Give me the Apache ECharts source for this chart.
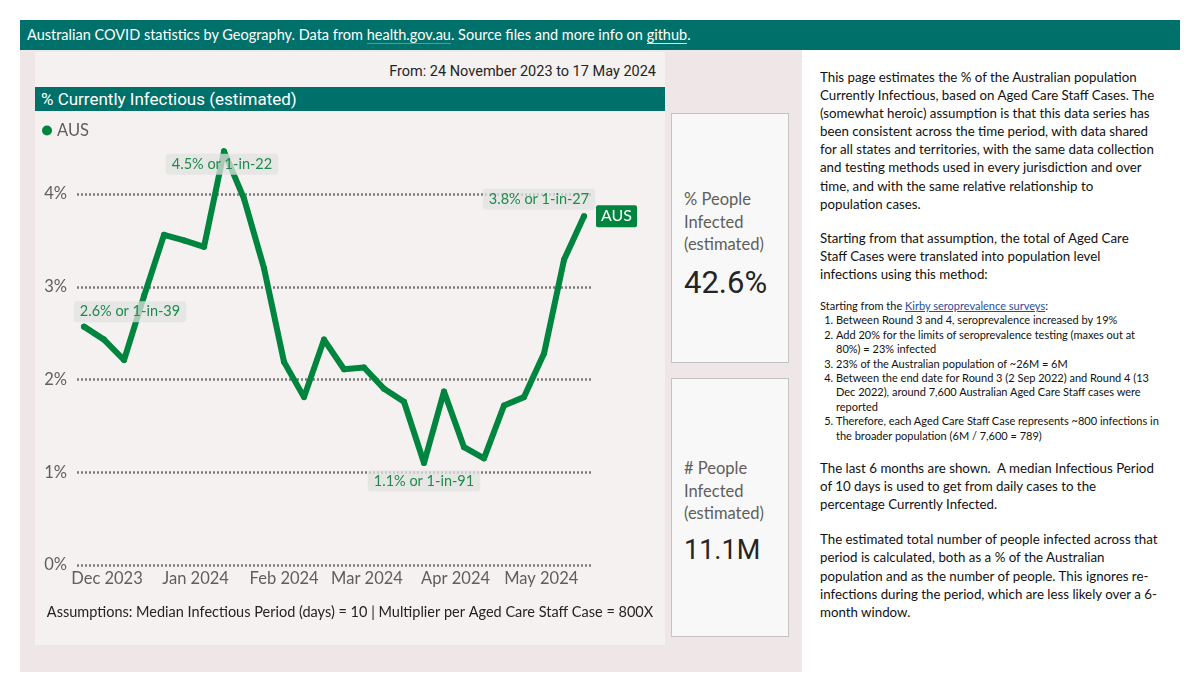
<!DOCTYPE html>
<html><head><meta charset="utf-8">
<script src="https://cdn.jsdelivr.net/npm/echarts@6/dist/echarts.min.js"></script>
<style>
body{margin:0;background:#fff;width:1200px;height:694px;position:relative;overflow:hidden;font-family:Lato,"Open Sans",sans-serif;}
.abs{position:absolute;}
#hdr{left:20px;top:20px;width:1160px;height:30px;background:#00706A;color:#fff;font-size:14.5px;line-height:30px;white-space:nowrap;}
#hdr .t{position:absolute;left:7px;top:0;}
#hdr a{color:#fff;text-decoration:none;border-bottom:1.5px solid #3d9be0;}
#hdr a.g{border-bottom-color:#d9e8e6;}
#outer{left:20px;top:50px;width:782px;height:622px;background:#EFE6E8;}
#inner{left:35px;top:52px;width:630px;height:593px;background:#F4F1F0;}
#from{left:35px;top:63px;width:621px;text-align:right;font-family:Roboto,sans-serif;font-size:14.5px;color:#252423;}
#ttl{left:35px;top:87px;width:630px;height:24px;background:#00706A;color:#fff;font-family:Roboto,sans-serif;font-size:17px;line-height:24px;}
#ttl span{position:absolute;left:6px;}
#chart{left:35px;top:111px;width:630px;height:534px;}
.card{background:#F9F8F8;border:1px solid #C4C2C2;box-sizing:border-box;}
.card .lbl{position:absolute;left:12px;font-size:16.5px;line-height:22.5px;color:#605E5C;white-space:nowrap;}
.card .val{position:absolute;left:12px;font-family:Roboto,sans-serif;color:#252423;}
#side{left:820px;top:68px;width:370px;font-size:13.3px;line-height:18.1px;color:#111;white-space:nowrap;}
#side p{margin:0;}
#side .sm{font-size:11px;line-height:14.4px;}
#side a{color:#1F4E9C;text-decoration:underline;}
#side ol{margin:0;padding:0 0 0 16px;}
</style></head>
<body>
<div id="hdr" class="abs"><span class="t">Australian COVID statistics by Geography. Data from <a>health.gov.au</a>. Source files and more info on <a class="g">github</a>.</span></div>
<div id="outer" class="abs"></div>
<div id="inner" class="abs"></div>
<div id="from" class="abs">From: 24 November 2023 to 17 May 2024</div>
<div id="ttl" class="abs"><span>% Currently Infectious (estimated)</span></div>
<div id="chart" class="abs"></div>

<div class="abs card" style="left:671px;top:113px;width:118px;height:250px;">
  <div class="lbl" style="top:74px;">% People<br>Infected<br>(estimated)</div>
  <div class="val" style="top:150px;font-size:31px;">42.6%</div>
</div>
<div class="abs card" style="left:671px;top:378px;width:118px;height:259px;">
  <div class="lbl" style="top:78px;">#&nbsp;People<br>Infected<br>(estimated)</div>
  <div class="val" style="top:155px;font-size:27px;">11.1M</div>
</div>

<div id="side" class="abs">
<p>This page estimates the % of the Australian population<br>Currently Infectious, based on Aged Care Staff Cases. The<br>(somewhat heroic) assumption is that this data series has<br>been consistent across the time period, with data shared<br>for all states and territories, with the same data collection<br>and testing methods used in every jurisdiction and over<br>time, and with the same relative relationship to<br>population cases.</p>
<p style="margin-top:16px;">Starting from that assumption, the total of Aged Care<br>Staff Cases were translated into population level<br>infections using this method:</p>
<div class="sm" style="margin-top:16px;">Starting from the <a>Kirby seroprevalence surveys</a>:
<ol>
<li>Between Round 3 and 4, seroprevalence increased by 19%</li>
<li>Add 20% for the limits of seroprevalence testing (maxes out at<br>80%) = 23% infected</li>
<li>23% of the Australian population of ~26M = 6M</li>
<li>Between the end date for Round 3 (2 Sep 2022) and Round 4 (13<br>Dec 2022), around 7,600 Australian Aged Care Staff cases were<br>reported</li>
<li>Therefore, each Aged Care Staff Case represents ~800 infections in<br>the broader population (6M / 7,600 = 789)</li>
</ol></div>
<p style="margin-top:16px;">The last 6 months are shown.&nbsp; A median Infectious Period<br>of 10 days is used to get from daily cases to the<br>percentage Currently Infected.</p>
<p style="margin-top:17px;">The estimated total number of people infected across that<br>period is calculated, both as a % of the Australian<br>population and as the number of people. This ignores re-<br>infections during the period, which are less likely over a 6-<br>month window.</p>
</div>

<script>
// ---- data ----
const dates = ['2023-11-24','2023-12-01','2023-12-08','2023-12-15','2023-12-22','2023-12-29','2024-01-05','2024-01-12','2024-01-19','2024-01-26','2024-02-02','2024-02-09','2024-02-16','2024-02-23','2024-03-01','2024-03-08','2024-03-15','2024-03-22','2024-03-29','2024-04-05','2024-04-12','2024-04-19','2024-04-26','2024-05-03','2024-05-10','2024-05-17'];
const ausPct = [2.57,2.43,2.21,2.9,3.56,3.5,3.43,4.46,3.95,3.2,2.19,1.81,2.43,2.11,2.13,1.9,1.76,1.1,1.87,1.27,1.15,1.72,1.81,2.28,3.29,3.76];
const monthTicks = ['2023-12-01','2024-01-01','2024-02-01','2024-03-01','2024-04-01','2024-05-01'];
const monthLabels = ['Dec 2023','Jan 2024','Feb 2024','Mar 2024','Apr 2024','May 2024'];
const seriesName = 'AUS';
const labelledPoints = [0, 7, 17, 25];
const assumptionsText = 'Assumptions: Median Infectious Period (days) = 10 | Multiplier per Aged Care Staff Case = 800X';

// ---- build ----
function ts(s){const p=s.split('-').map(Number);return Date.UTC(p[0],p[1]-1,p[2]);}
const DAY = 86400000;
const labelOffsets = {0:[46,-15], 7:[-2,13], 17:[0,18], 25:[-45,-17]};
const green = '#00853F';
const data = dates.map((d,i)=>{
  const item = {value:[ts(d), ausPct[i]]};
  if (labelledPoints.indexOf(i) >= 0) {
    const v = ausPct[i];
    item.label = {show:true, position:'inside', offset:labelOffsets[i],
      formatter: v.toFixed(1)+'% or 1-in-'+Math.round(100/v)};
  }
  return item;
});
const tickVals = monthTicks.map(ts);

const chart = echarts.init(document.getElementById('chart'), null, {renderer:'canvas'});
chart.setOption({
  animation:false,
  textStyle:{fontFamily:'Lato, "Open Sans", sans-serif'},
  legend:{data:[seriesName], left:2, top:6, icon:'circle', itemWidth:10, itemHeight:10, itemGap:4,
    textStyle:{color:'#605E5C', fontSize:16.5}},
  grid:{left:42, right:72, top:83, bottom:80, containLabel:false},
  xAxis:{type:'value', min:ts(dates[0]) - 2.45*DAY, max:ts(dates[dates.length-1]) + 3.15*DAY,
    axisLine:{show:false}, axisTick:{show:false}, splitLine:{show:false},
    axisLabel:{customValues:tickVals, color:'#605E5C', fontSize:16.5, margin:5, padding:[0,0,0,6],
      showMinLabel:true, showMaxLabel:true,
      formatter:(v)=>{const i=tickVals.indexOf(v);return i>=0?monthLabels[i]:'';}}},
  yAxis:{type:'value', min:0, max:4, interval:1,
    axisLine:{show:false}, axisTick:{show:false},
    axisLabel:{formatter:'{value}%', color:'#605E5C', fontSize:16.5, margin:10},
    splitLine:{lineStyle:{type:[2,2], width:2.5, color:'#7E7C7B'}}},
  series:[{
    type:'line', name:seriesName, data:data, clip:false,
    symbol:'circle', symbolSize:6, showSymbol:true,
    itemStyle:{color:green},
    lineStyle:{width:6, color:green, cap:'round', join:'round'},
    label:{color:'#1E8A4C', fontSize:14.5, backgroundColor:'rgba(226,226,226,0.75)', padding:[3,6,3,6], borderRadius:3},
    endLabel:{show:true, formatter:seriesName, color:'#fff', backgroundColor:green, fontSize:16,
      padding:[3,5,3,5], borderRadius:2, distance:12},
    emphasis:{disabled:true}
  }],
  graphic:[{type:'text', left:'center', top:494,
    style:{text:assumptionsText, fill:'#252423', fontSize:14.5, fontFamily:'Lato, "Open Sans", sans-serif'}}]
});
</script>
</body></html>
